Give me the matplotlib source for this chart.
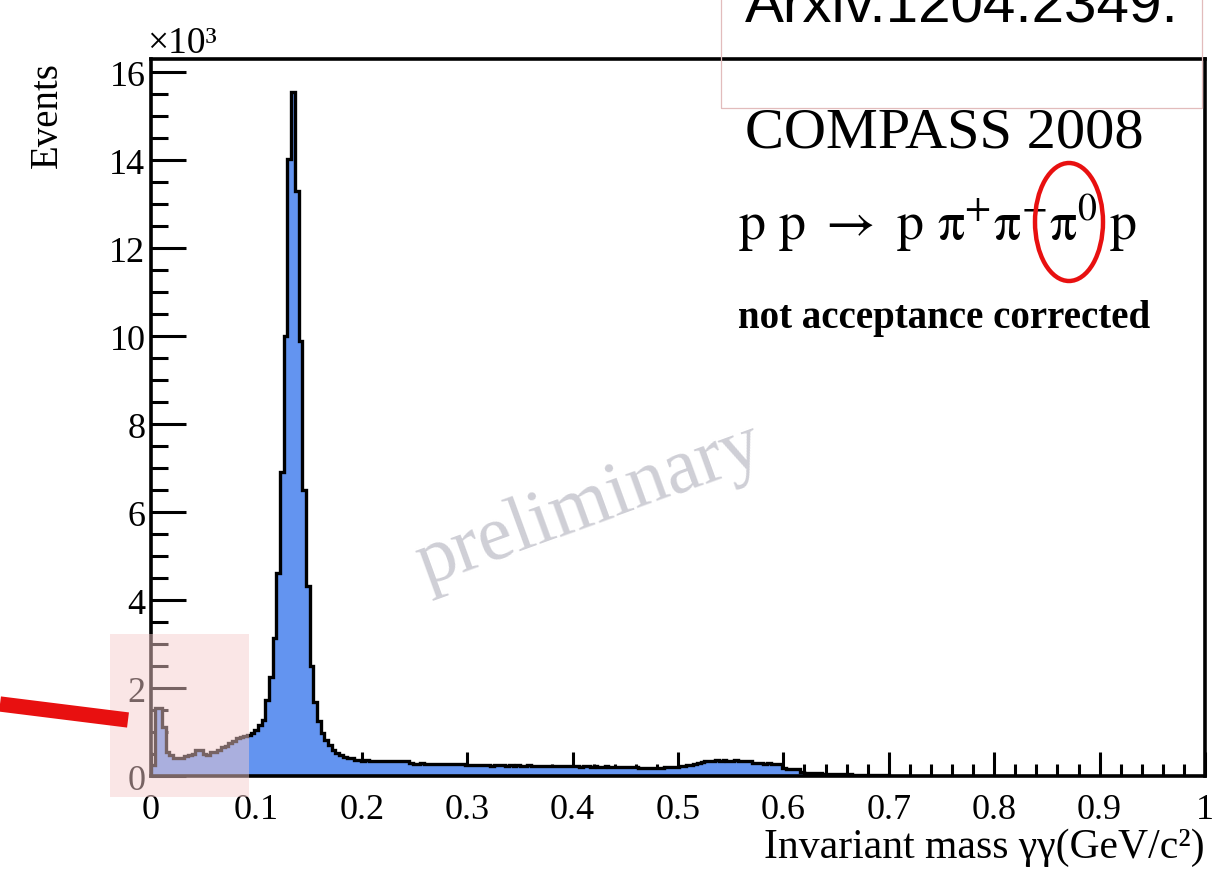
import numpy as np
import matplotlib
matplotlib.use("Agg")
import matplotlib.pyplot as plt
from matplotlib.patches import Rectangle, Ellipse
from matplotlib.lines import Line2D

# ---------------- data (thousands of events per bin) ----------------
bin_width = 0.0035   # GeV/c^2
n_bins = 200
counts_k = [
    0.25, 1.54, 1.54, 1.12, 0.55, 0.47, 0.41, 0.40, 0.42, 0.46,
    0.48, 0.50, 0.59, 0.58, 0.49, 0.48, 0.54, 0.55, 0.58, 0.66,
    0.68, 0.76, 0.79, 0.86, 0.88, 0.92, 0.94, 0.98, 1.05, 1.16,
    1.28, 1.72, 2.26, 3.14, 4.62, 6.90, 10.0, 14.03, 15.55, 13.30,
    9.89, 6.51, 4.31, 2.49, 1.69, 1.24, 0.98, 0.82, 0.71, 0.60,
    0.52, 0.48, 0.44, 0.42, 0.40,
    0.37, 0.36, 0.35, 0.36, 0.35, 0.34, 0.35, 0.34, 0.34, 0.35,
    0.34, 0.33, 0.34, 0.33, 0.33,
    0.29, 0.28, 0.28, 0.29, 0.28, 0.28, 0.27, 0.28, 0.28, 0.27,
    0.28, 0.27, 0.27, 0.28, 0.27, 0.26,
    0.25, 0.24, 0.24, 0.25, 0.24, 0.24, 0.23, 0.24, 0.24, 0.24,
    0.23, 0.24, 0.23, 0.24, 0.23, 0.23, 0.24, 0.23, 0.23, 0.22,
    0.23, 0.23, 0.22, 0.23, 0.22, 0.22, 0.23, 0.22, 0.22, 0.22,
    0.21, 0.22, 0.22, 0.21, 0.22, 0.21, 0.21, 0.22, 0.21, 0.21,
    0.20, 0.21, 0.20, 0.21, 0.20, 0.20,
    0.19, 0.19, 0.18, 0.19, 0.18, 0.19, 0.19, 0.20, 0.20, 0.21, 0.21,
    0.22, 0.23, 0.24, 0.26, 0.28, 0.30, 0.32, 0.33,
    0.35, 0.35, 0.36, 0.35, 0.36, 0.35, 0.35, 0.36, 0.35, 0.34, 0.35, 0.34,
    0.30, 0.29, 0.29, 0.28, 0.29, 0.28, 0.28, 0.27,
    0.18, 0.17, 0.17, 0.16, 0.15,
    0.08, 0.07, 0.07, 0.06, 0.06, 0.06, 0.05, 0.05, 0.05, 0.05,
    0.04, 0.04, 0.04, 0.04, 0.03, 0.03, 0.03, 0.03, 0.03, 0.02,
    0.02, 0.02, 0.02, 0.02,
]
x_ticks = [0, 0.1, 0.2, 0.3, 0.4, 0.5, 0.6, 0.7, 0.8, 0.9, 1.0]
x_tick_labels = ["0", "0.1", "0.2", "0.3", "0.4", "0.5", "0.6", "0.7", "0.8", "0.9", "1"]
y_ticks = [0, 2, 4, 6, 8, 10, 12, 14, 16]
y_tick_labels = ["0", "2", "4", "6", "8", "10", "12", "14", "16"]

# ---------------- figure ----------------
W, H = 1217, 879
fig = plt.figure(figsize=(W / 100, H / 100), dpi=100)
fig.patch.set_facecolor("white")
plt.rcParams["mathtext.fontset"] = "stix"

SERIF = ["Liberation Serif", "DejaVu Serif"]

def fx(px):
    return px / W

def fy(py):
    return 1 - py / H

ax = fig.add_axes([fx(151), fy(777), fx(1205) - fx(151), fy(60) - fy(777)])

edges = np.arange(n_bins + 1) * bin_width
counts = np.array(counts_k)
ax.stairs(counts, edges, fill=True, color="#6394f0", zorder=2)
ax.stairs(counts, edges, color="black", linewidth=2.4, zorder=3)

ax.set_xlim(0, 1.0)
ax.set_ylim(0, 16.3)
ax.set_xticks(x_ticks)
ax.set_xticklabels(x_tick_labels)
ax.set_yticks(y_ticks)
ax.set_yticklabels(y_tick_labels)
ax.set_xticks(np.arange(0, 1.0001, 0.02), minor=True)
ax.set_yticks(np.arange(0, 16.3, 0.5), minor=True)

ax.tick_params(axis="x", which="major", direction="in", length=17, width=2.2, pad=12,
               labelsize=26, top=False)
ax.tick_params(axis="x", which="minor", direction="in", length=9, width=2.2, top=False)
ax.tick_params(axis="y", which="major", direction="in", length=25, width=2.2, pad=4,
               labelsize=26, right=False)
ax.tick_params(axis="y", which="minor", direction="in", length=12, width=2.2, right=False)
for lab in ax.get_xticklabels() + ax.get_yticklabels():
    lab.set_family(SERIF)
for sp in ax.spines.values():
    sp.set_linewidth(2.6)
    sp.set_zorder(5)

# axis titles
fig.text(fx(1205), fy(858), "Invariant mass \u03b3\u03b3(GeV/c\u00b2)", ha="right", va="baseline",
         fontsize=30, family=SERIF)
fig.text(fx(47), fy(62), "Events", rotation=90, ha="center", va="top",
         fontsize=28, family=SERIF)
fig.text(fx(147), fy(53), "\u00d710\u00b3", ha="left", va="baseline", fontsize=27, family=SERIF)

# annotations
fig.text(fx(745), fy(148), "COMPASS 2008", ha="left", va="baseline", fontsize=42, family=SERIF)
fig.text(fx(738), fy(240),
         r"$\mathrm{p\ p}\ \rightarrow\ \mathrm{p}\ \mathrm{\pi}^{+}\mathrm{\pi}^{-}\mathrm{\pi}^{0}\;\mathrm{p}$",
         ha="left", va="baseline", fontsize=39)
fig.text(fx(738), fy(328), "not acceptance corrected", ha="left", va="baseline",
         fontsize=28, family=SERIF, fontweight="bold")
fig.text(fx(590), fy(505), "preliminary", ha="center", va="center", rotation=20,
         fontsize=56, family=SERIF, color="#cfcfd6")
fig.text(fx(745), fy(22), "Arxiv.1204.2349.", ha="left", va="baseline",
         fontsize=42, family=["Liberation Sans", "DejaVu Sans"], color="black")

# reference box at top
fig.add_artist(Rectangle((fx(721), fy(109)), fx(1202) - fx(721), fy(-10) - fy(109),
                         transform=fig.transFigure, fill=False, edgecolor="#e2bcbc", linewidth=0.9))
# pink translucent box at lower left
fig.add_artist(Rectangle((fx(110), fy(798)), fx(249) - fx(110), fy(635) - fy(798),
                         transform=fig.transFigure, facecolor="#f5cccc", edgecolor="none",
                         alpha=0.49, zorder=10))
# red line pointer
fig.add_artist(Line2D([fx(0), fx(128)], [fy(705), fy(721)], transform=fig.transFigure,
                      color="#e81010", linewidth=11, solid_capstyle="butt", zorder=11))
# red ellipse around pi0
fig.add_artist(Ellipse((fx(1069), fy(223)), fx(68), fy(0) - fy(118), transform=fig.transFigure,
                       fill=False, edgecolor="#e81010", linewidth=3.2, zorder=11))

fig.savefig("out.png", dpi=100)
